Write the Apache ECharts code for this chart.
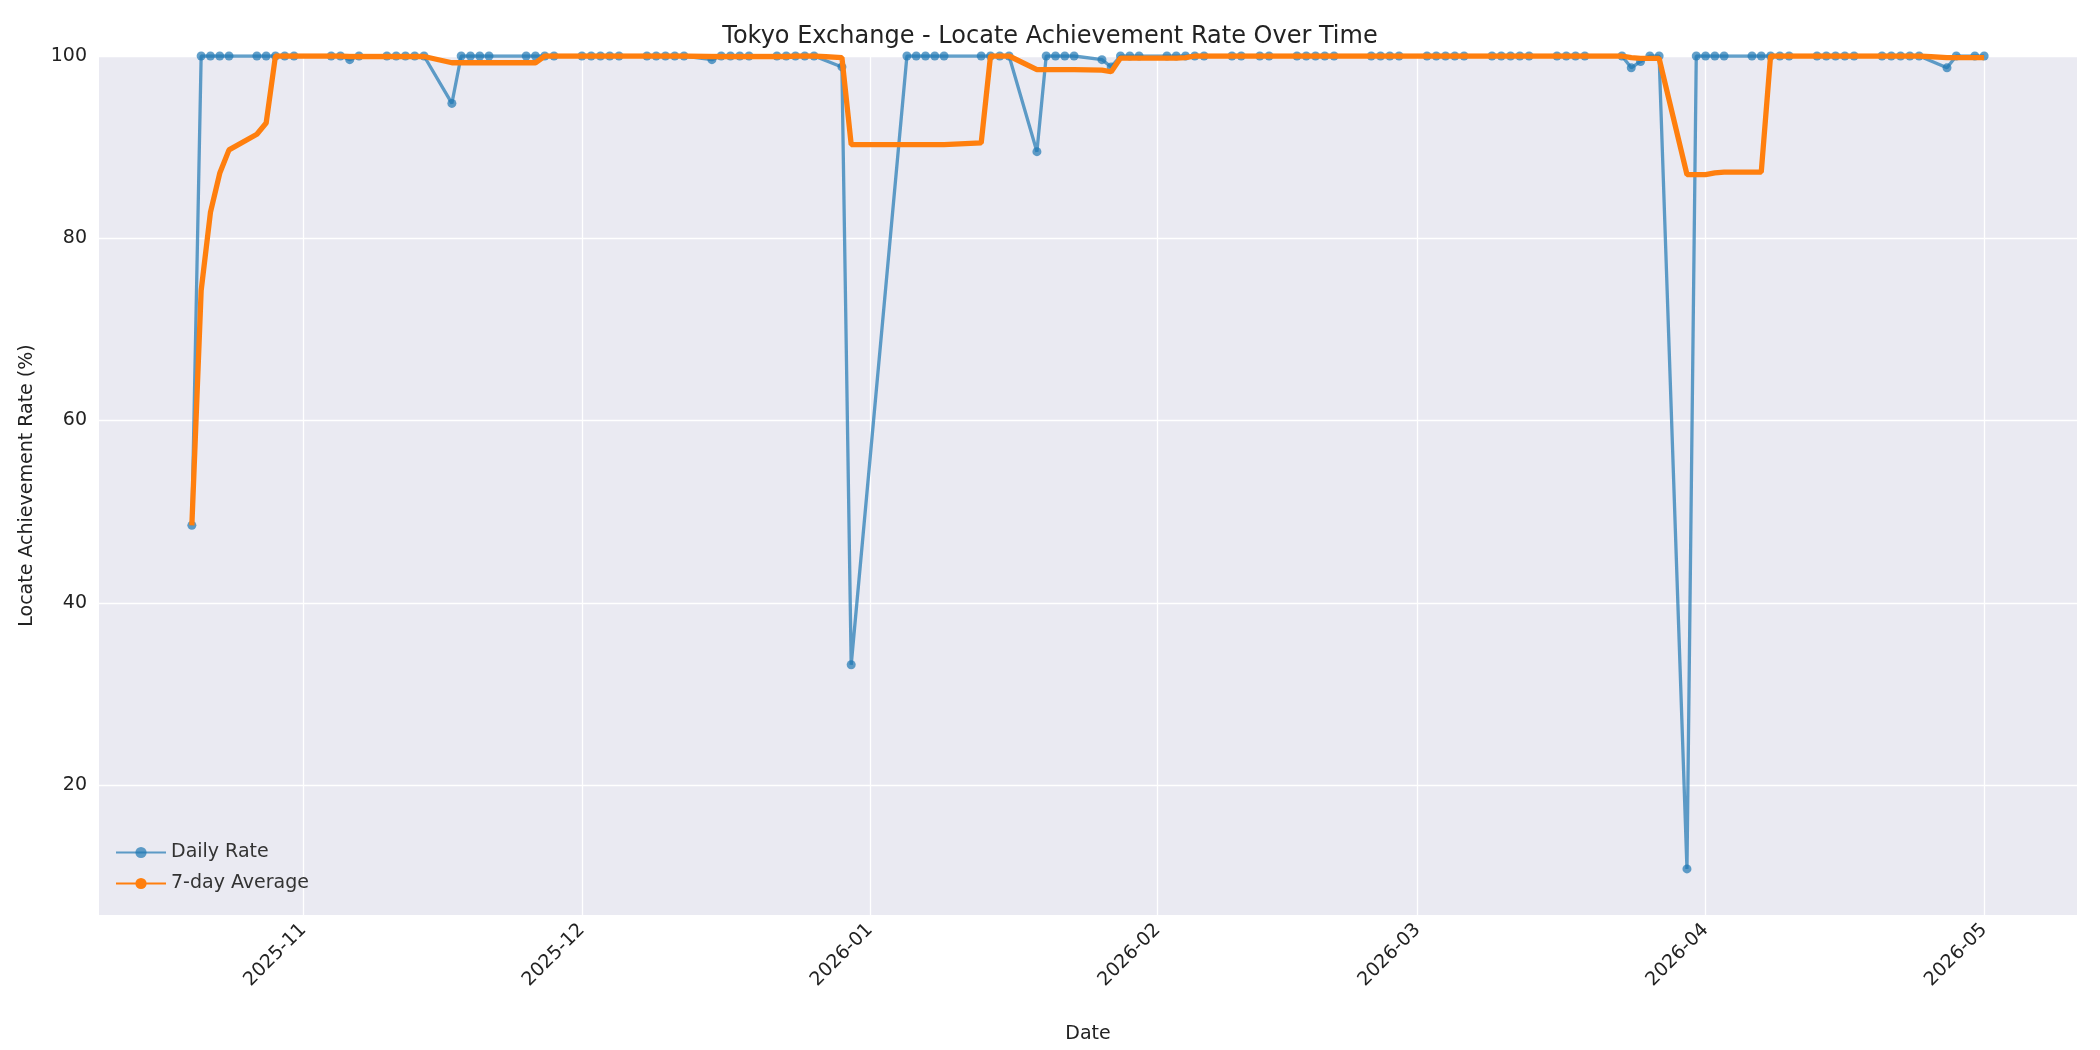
<!DOCTYPE html>
<html><head><meta charset="utf-8">
<script src="https://cdn.jsdelivr.net/npm/echarts@6/dist/echarts.min.js"></script>
<style>html,body{margin:0;padding:0;background:#fff}#c{width:2100px;height:1050px}</style>
</head><body><div id="c"></div>
<script>
const dates = [
'2025-10-20','2025-10-21','2025-10-22','2025-10-23','2025-10-24','2025-10-27','2025-10-28','2025-10-29','2025-10-30','2025-10-31',
'2025-11-04','2025-11-05','2025-11-06','2025-11-07','2025-11-10','2025-11-11','2025-11-12','2025-11-13','2025-11-14','2025-11-17','2025-11-18','2025-11-19','2025-11-20','2025-11-21','2025-11-25','2025-11-26','2025-11-27','2025-11-28',
'2025-12-01','2025-12-02','2025-12-03','2025-12-04','2025-12-05','2025-12-08','2025-12-09','2025-12-10','2025-12-11','2025-12-12','2025-12-15','2025-12-16','2025-12-17','2025-12-18','2025-12-19','2025-12-22','2025-12-23','2025-12-24','2025-12-25','2025-12-26','2025-12-29','2025-12-30',
'2026-01-05','2026-01-06','2026-01-07','2026-01-08','2026-01-09','2026-01-13','2026-01-14','2026-01-15','2026-01-16','2026-01-19','2026-01-20','2026-01-21','2026-01-22','2026-01-23','2026-01-26','2026-01-27','2026-01-28','2026-01-29','2026-01-30',
'2026-02-02','2026-02-03','2026-02-04','2026-02-05','2026-02-06','2026-02-09','2026-02-10','2026-02-12','2026-02-13','2026-02-16','2026-02-17','2026-02-18','2026-02-19','2026-02-20','2026-02-24','2026-02-25','2026-02-26','2026-02-27',
'2026-03-02','2026-03-03','2026-03-04','2026-03-05','2026-03-06','2026-03-09','2026-03-10','2026-03-11','2026-03-12','2026-03-13','2026-03-16','2026-03-17','2026-03-18','2026-03-19','2026-03-23','2026-03-24','2026-03-25','2026-03-26','2026-03-27','2026-03-30','2026-03-31',
'2026-04-01','2026-04-02','2026-04-03','2026-04-06','2026-04-07','2026-04-08','2026-04-09','2026-04-10','2026-04-13','2026-04-14','2026-04-15','2026-04-16','2026-04-17','2026-04-20','2026-04-21','2026-04-22','2026-04-23','2026-04-24','2026-04-27','2026-04-28','2026-04-30',
'2026-05-01'];
const rates = [
48.5,100,100,100,100,100,100,100,100,100,
100,100,99.6,100,100,100,100,100,100,94.8,100,100,100,100,100,100,100,100,
100,100,100,100,100,100,100,100,100,100,99.6,100,100,100,100,100,100,100,100,100,98.8,33.2,
100,100,100,100,100,100,100,100,100,89.5,100,100,100,100,99.6,98.8,100,100,100,
100,100,100,100,100,100,100,100,100,100,100,100,100,100,100,100,100,100,
100,100,100,100,100,100,100,100,100,100,100,100,100,100,100,98.7,99.4,100,100,10.8,100,
100,100,100,100,100,100,100,100,100,100,100,100,100,100,100,100,100,100,98.7,100,100,
100];
const monthTicks = ['2025-11-01','2025-12-01','2026-01-01','2026-02-01','2026-03-01','2026-04-01','2026-05-01'];
const yTicks = [20,40,60,80,100];
const windowRows = 7;

const ts = s => { const [y,m,d]=s.split('-').map(Number); return new Date(y,m-1,d).getTime(); };
const avg = rates.map((v,i)=>{const s=rates.slice(Math.max(0,i-windowRows+1),i+1);return s.reduce((a,b)=>a+b,0)/s.length;});
const daily = dates.map((d,i)=>[ts(d),rates[i]]);
const rolling = dates.map((d,i)=>[ts(d),avg[i]]);

const chart = echarts.init(document.getElementById('c'));
chart.setOption({
  animation:false,
  backgroundColor:'#fff',
  title:{text:'Tokyo Exchange - Locate Achievement Rate Over Time',left:'center',top:20,textStyle:{fontFamily:'DejaVu Sans',fontSize:24,fontWeight:'normal',color:'#222'}},
  grid:{left:99,right:23,top:56,bottom:135,show:true,backgroundColor:'#EAEAF2',borderWidth:0},
  legend:{orient:'vertical',left:110,top:838,itemWidth:50,itemHeight:14,itemGap:12,
    textStyle:{fontFamily:'DejaVu Sans',fontSize:19,color:'#333'},
    data:['Daily Rate','7-day Average']},
  xAxis:{type:'value',min:ts('2025-10-10'),max:ts('2026-05-11'),
    name:'Date',nameLocation:'middle',nameGap:110,nameTextStyle:{fontFamily:'DejaVu Sans',fontSize:19,color:'#222'},
    axisLine:{show:false},axisTick:{show:false,customValues:monthTicks.map(ts)},
    axisLabel:{customValues:monthTicks.map(ts),rotate:45,fontFamily:'DejaVu Sans',fontSize:19,color:'#222',margin:12,
      formatter:v=>{const d=new Date(v);return d.getFullYear()+'-'+String(d.getMonth()+1).padStart(2,'0');}},
    splitLine:{show:true,lineStyle:{color:'#fff',width:1.3}}},
  yAxis:{type:'value',min:5.74,max:100,
    name:'Locate Achievement Rate (%)',nameLocation:'middle',nameGap:62,nameTextStyle:{fontFamily:'DejaVu Sans',fontSize:19,color:'#222'},
    axisLine:{show:false},axisTick:{show:false,customValues:yTicks},
    axisLabel:{customValues:yTicks,fontFamily:'DejaVu Sans',fontSize:19,color:'#222',margin:12},
    splitLine:{show:true,lineStyle:{color:'#fff',width:1.3}}},
  series:[
    {name:'Daily Rate',type:'line',data:daily,symbol:'circle',symbolSize:9,showAllSymbol:true,
      itemStyle:{color:'#1f77b4',opacity:0.7},lineStyle:{color:'#1f77b4',width:3.3,opacity:0.7},z:2},
    {name:'7-day Average',type:'line',data:rolling,symbol:'none',
      itemStyle:{color:'#ff7f0e'},lineStyle:{color:'#ff7f0e',width:5.3},z:3}
  ]
});
</script></body></html>
